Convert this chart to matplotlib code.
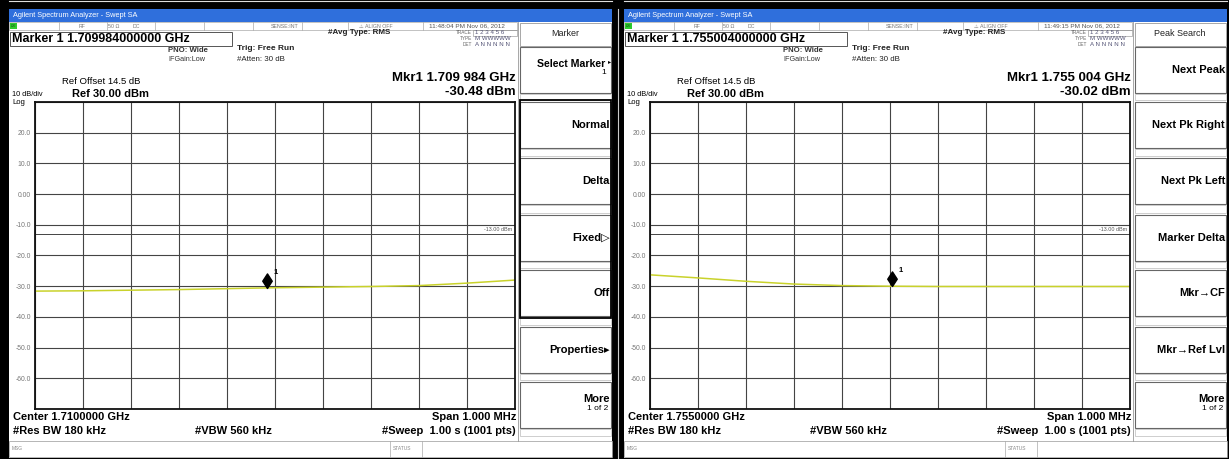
import numpy as np
import matplotlib.pyplot as plt
from matplotlib.patches import Rectangle
from matplotlib.path import Path

plt.rcParams['font.family'] = ['Liberation Sans', 'DejaVu Sans']

W, H = 1229, 459

span_mhz = 1.0
ref_dbm = 30.0
db_per_div = 10
limit_dbm = -13.0
grid_cols = np.arange(11)          # 10 horizontal divisions -> 11 trace points

center_ghz = [1.7100000, 1.7550000]
marker_ghz = [1.709984, 1.755004]
marker_dbm = [-30.48, -30.02]
trace_left = [-31.6, -31.5, -31.3, -31.1, -30.8, -30.5, -30.3, -30.1, -29.8, -29.0, -28.0]
trace_right = [-26.3, -27.3, -28.4, -29.3, -29.8, -30.0, -30.1, -30.1, -30.1, -30.1, -30.1]
times = ['11:48:04 PM Nov 06, 2012', '11:49:15 PM Nov 06, 2012']
ytick_vals = [-70, -60, -50, -40, -30, -20, -10, 0, 10, 20, 30]
ytick_txt = ['', '-60.0', '-50.0', '-40.0', '-30.0', '-20.0', '-10.0', '0.00', '10.0', '20.0', '']

menu_titles = ['Marker', 'Peak Search']
menu_keys = [
    ['Select Marker\n1', 'Normal', 'Delta', 'Fixed\u25b7', 'Off', 'Properties\u25b8', 'More\n1 of 2'],
    ['Next Peak', 'Next Pk Right', 'Next Pk Left', 'Marker Delta', 'Mkr\u2192CF', 'Mkr\u2192Ref Lvl', 'More\n1 of 2'],
]
key_tops = [47, 102, 158, 215, 270, 327, 382]

fig = plt.figure(figsize=(W / 100, H / 100), dpi=100, facecolor='black')
bg = fig.add_axes([0, 0, 1, 1])
bg.set_xlim(0, W)
bg.set_ylim(H, 0)
bg.axis('off')


def box(x, y, w, h, fc='none', ec='#888', lw=0.6, z=1):
    bg.add_patch(Rectangle((x, y), w, h, facecolor=fc, edgecolor=ec, linewidth=lw, zorder=z))


def txt(x, y, s, size=5, weight='normal', color='black', ha='left', **kw):
    bg.text(x, y, s, fontsize=size, fontweight=weight, color=color, ha=ha, va='center', zorder=5, **kw)


# marker diamond, bottom tip on the trace point
diamond = Path([(0, 0), (0.65, 1), (0, 2), (-0.65, 1), (0, 0)],
               [Path.MOVETO, Path.LINETO, Path.LINETO, Path.LINETO, Path.CLOSEPOLY])


def draw_panel(i, x0):
    c_mhz = center_ghz[i] * 1000
    trace = trace_left if i == 0 else trace_right

    # window + title bar
    box(x0, 9, 603, 449, fc='white', ec='none', z=0)
    box(x0, 9, 603, 13, fc='#2f6fdc', ec='none')
    txt(x0 + 4, 15.5, 'Agilent Spectrum Analyzer - Swept SA', 5.3, color='white')

    # status row
    box(x0, 22, 508, 8, fc='white', ec='#aaa', lw=0.5)
    box(x0 + 1, 23, 7, 6, fc='#2ecc2e', ec='none', z=2)
    txt(x0 + 1.5, 26, 'LXI', 2.6, color='#114411')
    for sx in [50, 98, 146, 195, 244, 293, 339, 414]:
        bg.plot([x0 + sx] * 2, [22, 30], color='#aaa', lw=0.5)
    for sx, s in [(70, 'RF'), (99, '50 \u03a9'), (124, 'DC'), (262, 'SENSE:INT'), (350, '\u26a0 ALIGN OFF')]:
        txt(x0 + sx, 26, s, 3.8, color='#777')
    txt(x0 + 420, 26, times[i], 4.6, color='#555')

    # marker readout line
    box(x0 + 1, 32, 222, 14, ec='#555', lw=0.7)
    mk = f'{marker_ghz[i]:.12f}'
    txt(x0 + 3, 39.5, f'Marker 1 {mk} GHz', 9, 'bold')
    txt(x0 + 159, 51, 'PNO: Wide', 5.6, 'bold', color='#333')
    txt(x0 + 159, 59.5, 'IFGain:Low', 5.2, color='#333')
    txt(x0 + 228, 49, 'Trig: Free Run', 6, 'bold', color='#222')
    txt(x0 + 228, 59.5, '#Atten: 30 dB', 5.7, color='#222')
    txt(x0 + 319, 33, '#Avg Type: RMS', 5.8, 'bold', color='#222')

    # trace table
    for ty, lab, val in [(33, 'TRACE', '1 2 3 4 5 6'), (39, 'TYPE', 'M WWWWW'), (45, 'DET', 'A N N N N N')]:
        txt(x0 + 463, ty, lab, 3.4, color='#666', ha='right')
        txt(x0 + 466, ty, val, 4.4, color='#557')
    box(x0 + 464, 30, 44, 6, ec='#888', lw=0.4)

    # big marker readout
    f_str = f'{marker_ghz[i]:.6f}'
    txt(x0 + 507, 78, f'Mkr1 {f_str[:5]} {f_str[5:]} GHz', 9.5, 'bold', ha='right')
    txt(x0 + 507, 92, f'{marker_dbm[i]:.2f} dBm', 9.5, 'bold', ha='right')

    txt(x0 + 53, 81, 'Ref Offset 14.5 dB', 6.8)
    txt(x0 + 63, 94, f'Ref {ref_dbm:.2f} dBm', 8, 'bold')
    txt(x0 + 3, 95, f'{db_per_div} dB/div', 5.3)
    txt(x0 + 3, 102, 'Log', 5.5)

    # bottom settings
    txt(x0 + 4, 417, f'Center {center_ghz[i]:.7f} GHz', 8, 'bold')
    txt(x0 + 507, 417, f'Span {span_mhz:.3f} MHz', 8, 'bold', ha='right')
    txt(x0 + 4, 430.5, '#Res BW 180 kHz', 8, 'bold')
    txt(x0 + 186, 430.5, '#VBW 560 kHz', 8, 'bold')
    txt(x0 + 507, 430.5, '#Sweep  1.00 s (1001 pts)', 8, 'bold', ha='right')

    # message row
    box(x0, 441, 603, 16, ec='#aaa', lw=0.6)
    bg.plot([x0 + 381] * 2, [441, 457], color='#aaa', lw=0.5)
    bg.plot([x0 + 413] * 2, [441, 457], color='#aaa', lw=0.5)
    txt(x0 + 3, 449, 'MSG', 3.5, color='#888')
    txt(x0 + 384, 449, 'STATUS', 3.5, color='#888')

    # softkey column
    bg.plot([x0 + 509] * 2, [22, 441], color='#999', lw=0.6)
    box(x0 + 511, 23, 91, 23, ec='#999', lw=0.6)
    txt(x0 + 556, 34, menu_titles[i], 6.5, color='#222', ha='center')
    keys = menu_keys[i]
    nxt = key_tops[1:] + [438]
    for top, nt, lab in zip(key_tops, nxt, keys):
        box(x0 + 511, top, 91, 46, ec='#666', lw=0.8)
        box(x0 + 511, top + 47, 91, nt - top - 49, ec='#bbb', lw=0.5)
        mid = top + 23
        if '\n' in lab:
            a, b = lab.split('\n')
            if a == 'More':
                txt(x0 + 601, mid - 6, a, 8, 'bold', ha='right')
                txt(x0 + 599, mid + 4, b, 6, ha='right')
            else:
                txt(x0 + 596, mid - 6, a, 7.6, 'bold', ha='right')
                txt(x0 + 597, mid + 3, b, 6, ha='right')
                txt(x0 + 602, mid - 8, '\u25b8', 4.5, ha='right')
        else:
            txt(x0 + 601, mid, lab, 8, 'bold', ha='right')
    if i == 0:
        box(x0 + 511, 100, 91, 218, ec='black', lw=1.3)

    # graticule
    ax = fig.add_axes([(x0 + 26) / W, 1 - 409 / H, 480 / W, 307 / H])
    lo, hi = c_mhz - span_mhz / 2, c_mhz + span_mhz / 2
    ax.set_xlim(lo, hi)
    ax.set_ylim(ref_dbm - 10 * db_per_div, ref_dbm)
    ax.set_xticks(np.linspace(lo, hi, 11))
    ax.set_yticks(ytick_vals)
    ax.set_yticklabels(ytick_txt, fontsize=4.9, color='#777')
    ax.tick_params(length=0, labelbottom=False, pad=3)
    ax.grid(True, color='#444', lw=0.8)
    ax.set_facecolor('white')
    for sp in ax.spines.values():
        sp.set_color('#111')
        sp.set_linewidth(1.3)

    freqs = lo + grid_cols / 10 * span_mhz
    ax.plot(freqs, trace, color='#c9d22b', lw=1.1)

    ax.axhline(limit_dbm, color='#444', lw=0.7)
    ax.text(hi - 0.006, limit_dbm + 1.6, f'{limit_dbm:.2f} dBm', fontsize=3.9,
            color='#555', ha='right', va='center')

    mf = marker_ghz[i] * 1000
    ax.plot([mf], [marker_dbm[i]], marker=diamond, markersize=21, color='black',
            linestyle='none', clip_on=False)
    ax.annotate('1', (mf, marker_dbm[i]), xytext=(4.5, 11), textcoords='offset points',
                fontsize=5.5, fontweight='bold', ha='left', va='center')


draw_panel(0, 9)
draw_panel(1, 624)

# frame bits between the two screens
bg.plot([618, 618], [9, 459], color='#ccc', lw=0.8)
bg.plot([9, 612], [0.8, 0.8], color='#ddd', lw=0.8)
bg.plot([624, 1227], [0.8, 0.8], color='#ddd', lw=0.8)

fig.savefig('out.png', dpi=100, facecolor='black')
